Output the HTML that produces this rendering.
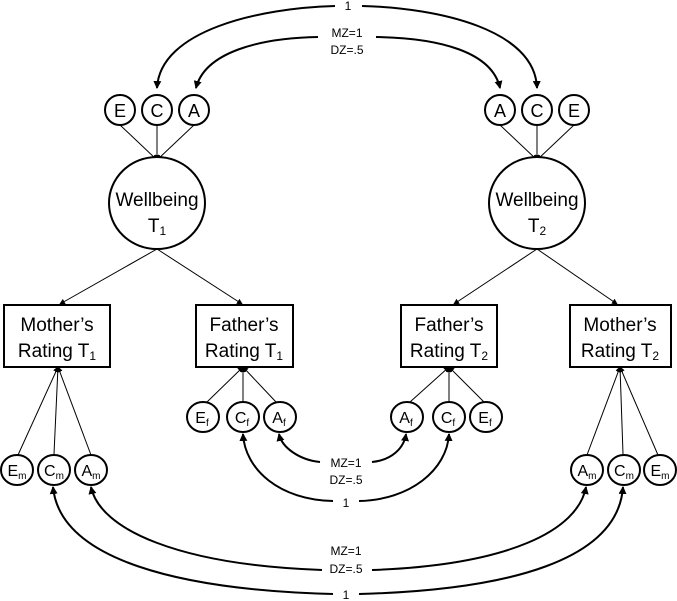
<!DOCTYPE html>
<html><head><meta charset="utf-8"><style>
html,body{margin:0;padding:0;background:#fff;}
svg{display:block;font-family:"Liberation Sans",sans-serif;}
</style></head><body>
<svg width="677" height="601" viewBox="0 0 677 601" xmlns="http://www.w3.org/2000/svg">
<defs>
<marker id="ah" markerWidth="8" markerHeight="8" refX="7" refY="4" orient="auto" markerUnits="userSpaceOnUse">
<path d="M0,0 L8,4 L0,8 z" fill="#000"/></marker>
<marker id="sh" markerWidth="6" markerHeight="6" refX="5" refY="3" orient="auto" markerUnits="userSpaceOnUse">
<path d="M0,0 L6,3 L0,6 z" fill="#000"/></marker>
</defs>
<g fill="none" stroke="#000" stroke-width="2">
<!-- top curves -->
<path d="M335,6 C260,8 160,30 157,88" marker-end="url(#ah)"/>
<path d="M362,6 C440,8 535,30 537,88" marker-end="url(#ah)"/>
<path d="M318,37 C260,38 205,52 196,88" marker-end="url(#ah)"/>
<path d="M376,37 C440,38 492,52 500,88" marker-end="url(#ah)"/>
<!-- middle bottom -->
<path d="M333,501 C280,500 245,470 243,434" marker-end="url(#ah)"/>
<path d="M320,462 C300,460 282,448 279,434" marker-end="url(#ah)"/>
<path d="M359,501 C410,500 447,470 449,434" marker-end="url(#ah)"/>
<path d="M372,462 C392,460 404,448 406,434" marker-end="url(#ah)"/>
<!-- bottom -->
<path d="M333,594 C180,590 60,560 53,487" marker-end="url(#ah)"/>
<path d="M322,570 C180,565 100,530 91,487" marker-end="url(#ah)"/>
<path d="M359,594 C510,590 618,560 623,487" marker-end="url(#ah)"/>
<path d="M372,570 C510,565 578,530 586,487" marker-end="url(#ah)"/>
</g>
<g stroke="#000" stroke-width="1" fill="none">
<!-- ECA to wellbeing -->
<line x1="120" y1="125" x2="157" y2="160" marker-end="url(#sh)"/>
<line x1="157" y1="125" x2="157" y2="160" marker-end="url(#sh)"/>
<line x1="194" y1="125" x2="157" y2="160" marker-end="url(#sh)"/>
<line x1="500" y1="125" x2="537" y2="160" marker-end="url(#sh)"/>
<line x1="537" y1="125" x2="537" y2="160" marker-end="url(#sh)"/>
<line x1="574" y1="125" x2="537" y2="160" marker-end="url(#sh)"/>
<!-- wellbeing to boxes -->
<line x1="157" y1="249" x2="60" y2="304" marker-end="url(#sh)"/>
<line x1="157" y1="249" x2="242" y2="304" marker-end="url(#sh)"/>
<line x1="537" y1="249" x2="454" y2="304" marker-end="url(#sh)"/>
<line x1="537" y1="249" x2="617" y2="304" marker-end="url(#sh)"/>
<!-- f circles to boxes -->
<line x1="207" y1="402" x2="243" y2="367" marker-end="url(#sh)"/>
<line x1="243" y1="401" x2="243" y2="367" marker-end="url(#sh)"/>
<line x1="276" y1="402" x2="243" y2="367" marker-end="url(#sh)"/>
<line x1="410" y1="402" x2="449" y2="367" marker-end="url(#sh)"/>
<line x1="449" y1="401" x2="449" y2="367" marker-end="url(#sh)"/>
<line x1="484" y1="402" x2="449" y2="367" marker-end="url(#sh)"/>
<!-- m circles -->
<line x1="18" y1="455" x2="58" y2="367" marker-end="url(#sh)"/>
<line x1="54" y1="454" x2="58" y2="367" marker-end="url(#sh)"/>
<line x1="91" y1="455" x2="58" y2="367" marker-end="url(#sh)"/>
<line x1="587" y1="455" x2="620" y2="367" marker-end="url(#sh)"/>
<line x1="623" y1="454" x2="620" y2="367" marker-end="url(#sh)"/>
<line x1="658" y1="455" x2="620" y2="367" marker-end="url(#sh)"/>
</g>
<g fill="#fff" stroke="#000" stroke-width="2">
<circle cx="120" cy="110" r="15"/><circle cx="157" cy="110" r="15"/><circle cx="194" cy="110" r="15"/>
<circle cx="500" cy="110" r="15"/><circle cx="537" cy="110" r="15"/><circle cx="574" cy="110" r="15"/>
<ellipse cx="157" cy="203" rx="48" ry="46"/><ellipse cx="537" cy="203" rx="48" ry="46"/>
<rect x="4" y="305" width="106" height="62"/><rect x="196" y="305" width="97" height="62"/>
<rect x="401" y="305" width="96" height="62"/><rect x="570" y="305" width="101" height="62"/>
<ellipse cx="203" cy="417" rx="16" ry="15"/><ellipse cx="243" cy="417" rx="16" ry="15"/><ellipse cx="280" cy="417" rx="16" ry="15"/>
<ellipse cx="407" cy="417" rx="16" ry="15"/><ellipse cx="449" cy="417" rx="16" ry="15"/><ellipse cx="486" cy="417" rx="16" ry="15"/>
<ellipse cx="17" cy="470" rx="16" ry="15"/><ellipse cx="54" cy="470" rx="16" ry="15"/><ellipse cx="91" cy="470" rx="16" ry="15"/>
<ellipse cx="587" cy="470" rx="16" ry="15"/><ellipse cx="624" cy="470" rx="16" ry="15"/><ellipse cx="660" cy="470" rx="16" ry="15"/>
</g>
<g fill="#000" font-size="18" text-anchor="middle">
<text x="120" y="117">E</text><text x="157" y="117">C</text><text x="194" y="117">A</text>
<text x="500" y="117">A</text><text x="537" y="117">C</text><text x="574" y="117">E</text>
<text x="157" y="206" font-size="19">Wellbeing</text>
<text x="157" y="232" font-size="19">T<tspan font-size="12" dy="3">1</tspan></text>
<text x="537" y="206" font-size="19">Wellbeing</text>
<text x="537" y="232" font-size="19">T<tspan font-size="12" dy="3">2</tspan></text>
</g>
<g fill="#000" font-size="19" text-anchor="middle">
<text x="57" y="331">Mother’s</text><text x="57" y="357">Rating T<tspan font-size="12" dy="3">1</tspan></text>
<text x="244" y="331">Father’s</text><text x="244" y="357">Rating T<tspan font-size="12" dy="3">1</tspan></text>
<text x="449" y="331">Father’s</text><text x="449" y="357">Rating T<tspan font-size="12" dy="3">2</tspan></text>
<text x="620" y="331">Mother’s</text><text x="620" y="357">Rating T<tspan font-size="12" dy="3">2</tspan></text>
</g>
<g fill="#000" font-size="16" text-anchor="middle">
<text x="202" y="423">E<tspan font-size="10" dy="3">f</tspan></text>
<text x="242" y="423">C<tspan font-size="10" dy="3">f</tspan></text>
<text x="279" y="423">A<tspan font-size="10" dy="3">f</tspan></text>
<text x="406" y="423">A<tspan font-size="10" dy="3">f</tspan></text>
<text x="448" y="423">C<tspan font-size="10" dy="3">f</tspan></text>
<text x="485" y="423">E<tspan font-size="10" dy="3">f</tspan></text>
<text x="17" y="476">E<tspan font-size="10" dy="3">m</tspan></text>
<text x="54" y="476">C<tspan font-size="10" dy="3">m</tspan></text>
<text x="91" y="476">A<tspan font-size="10" dy="3">m</tspan></text>
<text x="587" y="476">A<tspan font-size="10" dy="3">m</tspan></text>
<text x="624" y="476">C<tspan font-size="10" dy="3">m</tspan></text>
<text x="660" y="476">E<tspan font-size="10" dy="3">m</tspan></text>
</g>
<g fill="#000" font-size="12" text-anchor="middle">
<text x="348" y="10">1</text>
<text x="347" y="37">MZ=1</text><text x="347" y="54">DZ=.5</text>
<text x="346" y="467">MZ=1</text><text x="346" y="484">DZ=.5</text>
<text x="346" y="507">1</text>
<text x="346" y="555">MZ=1</text><text x="346" y="573">DZ=.5</text>
<text x="346" y="599">1</text>
</g>
</svg>
</body></html>
